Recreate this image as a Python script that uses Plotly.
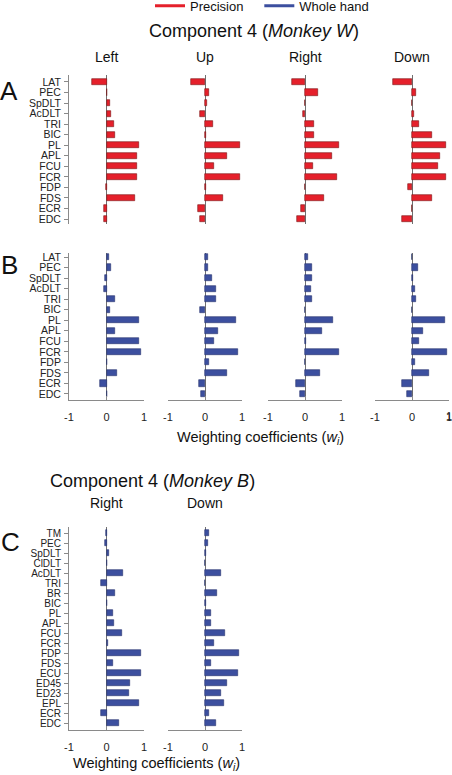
import plotly.graph_objects as go

# ---------------- data ----------------
muscles_W = ["LAT", "PEC", "SpDLT", "AcDLT", "TRI", "BIC", "PL", "APL", "FCU", "FCR", "FDP", "FDS", "ECR", "EDC"]
directions_W = ["Left", "Up", "Right", "Down"]

prec_left = [-0.39, 0.01, 0.09, 0.13, 0.20, 0.22, 0.87, 0.80, 0.82, 0.82, -0.01, 0.77, -0.06, -0.06]
prec_up = [-0.39, 0.10, 0.06, -0.14, 0.21, 0.02, 0.94, 0.60, 0.25, 0.94, 0.02, 0.48, -0.20, -0.14]
prec_right = [-0.35, 0.34, 0.01, -0.06, 0.23, 0.23, 0.93, 0.73, 0.21, 0.87, -0.01, 0.51, -0.12, -0.22]
prec_down = [-0.51, 0.12, 0.00, 0.06, 0.20, 0.53, 0.91, 0.76, 0.70, 0.92, -0.12, 0.55, -0.01, -0.26]

whole_left = [0.07, 0.13, -0.03, -0.07, 0.22, 0.09, 0.86, 0.23, 0.86, 0.93, 0.02, 0.28, -0.18, 0.00]
whole_up = [0.09, 0.08, 0.20, 0.30, 0.29, -0.14, 0.85, 0.35, 0.24, 0.90, 0.10, 0.60, -0.15, -0.12]
whole_right = [0.08, 0.20, 0.20, 0.17, 0.20, 0.00, 0.77, 0.45, 0.03, 0.93, 0.00, 0.41, -0.25, -0.14]
whole_down = [0.00, 0.15, 0.02, 0.09, 0.11, 0.00, 0.89, 0.30, 0.20, 0.94, 0.09, 0.46, -0.28, -0.14]

muscles_B = ["TM", "PEC", "SpDLT", "ClDLT", "AcDLT", "TRI", "BR", "BIC", "PL", "APL", "FCU", "FCR",
             "FDP", "FDS", "ECU", "ED45", "ED23", "EPL", "ECR", "EDC"]
directions_B = ["Right", "Down"]
wholeB_right = [-0.02, -0.03, 0.07, 0.00, 0.44, -0.14, 0.22, 0.01, 0.16, 0.21, 0.42, 0.04,
                0.91, 0.16, 0.91, 0.62, 0.60, 0.86, -0.16, 0.33]
wholeB_down = [0.12, 0.08, 0.02, 0.00, 0.43, 0.00, 0.32, 0.02, 0.16, 0.15, 0.55, 0.25,
               0.92, 0.15, 0.90, 0.60, 0.44, 0.52, 0.10, 0.29]

x_ticks = [-1, 0, 1]
x_ticktext = ["-1", "0", "1"]

# ---------------- style ----------------
W, H = 452, 775
FONT = "Arial, Liberation Sans, sans-serif"
RED = "#e5202b"
RED_EDGE = "#7a1414"
BLUE = "#3c4f9f"
BLUE_EDGE = "#26336d"
AXIS_GREY = "#8a8a8a"
ZERO_GREY = "#707070"


def px_x(p):
    return p / W


def px_y(p):
    return 1 - p / H


fig = go.Figure()
layout = {}

col_px = [(69, 144), (168, 242), (268, 342), (375, 449)]

panels = [
    ([prec_left, prec_up, prec_right, prec_down], RED, RED_EDGE, (75, 224), [13.47, -0.66], muscles_W, col_px, False, 0.58, 10.5),
    ([whole_left, whole_up, whole_right, whole_down], BLUE, BLUE_EDGE, (253, 400), [13.57, -0.38], muscles_W, col_px, True, 0.58, 10.5),
    ([wholeB_right, wholeB_down], BLUE, BLUE_EDGE, (527, 730), [19.7, -0.6], muscles_B, col_px[:2], True, 0.55, 10),
]

k = 0
for series, color, edge, (ytop, ybot), yrange, muscles, cols, show_x, bw, fs in panels:
    for ci, vals in enumerate(series):
        k += 1
        xa = "xaxis" if k == 1 else f"xaxis{k}"
        ya = "yaxis" if k == 1 else f"yaxis{k}"
        xr = "x" if k == 1 else f"x{k}"
        yr = "y" if k == 1 else f"y{k}"
        fig.add_trace(go.Bar(
            x=vals, y=muscles, orientation="h", xaxis=xr, yaxis=yr,
            marker=dict(color=color, line=dict(color=edge, width=0.6)),
            width=bw, showlegend=False, hoverinfo="x+y",
        ))
        x0, x1 = cols[ci]
        layout[xa] = dict(
            domain=[px_x(x0), px_x(x1)], range=[-1, 1], anchor=yr, automargin=False,
            zeroline=True, zerolinecolor=ZERO_GREY, zerolinewidth=1,
            showgrid=False, fixedrange=True,
            showline=show_x, linecolor=AXIS_GREY, linewidth=1,
            showticklabels=show_x, tickmode="array", tickvals=x_ticks, ticktext=x_ticktext,
            ticks="inside" if show_x else "", ticklen=4, tickcolor=AXIS_GREY,
            tickfont=dict(family=FONT, size=11, color="#222"), ticklabeloverflow="allow",
            ticklabelstandoff=7,
        )
        first = ci == 0
        layout[ya] = dict(
            domain=[px_y(ybot), px_y(ytop)], anchor=xr, type="category", automargin=False,
            categoryorder="array", categoryarray=muscles, range=yrange,
            tickmode="array", tickvals=muscles, ticktext=muscles,
            showgrid=False, zeroline=False, fixedrange=True,
            showline=first, linecolor=AXIS_GREY, linewidth=1,
            showticklabels=first, ticks="outside" if first else "", ticklen=4,
            tickcolor=AXIS_GREY, tickfont=dict(family=FONT, size=fs, color="#222"),
            ticklabelstandoff=1,
        )

# legend dummy traces
fig.add_trace(go.Scatter(x=[None], y=[None], mode="lines", name="Precision\u00a0\u00a0\u00a0",
                         line=dict(color=RED, width=3)))
fig.add_trace(go.Scatter(x=[None], y=[None], mode="lines", name="Whole hand",
                         line=dict(color=BLUE, width=3)))

ann = []


def add_text(text, x, y, size, xanchor="center"):
    ann.append(dict(text=text, x=px_x(x), y=px_y(y), xref="paper", yref="paper",
                    showarrow=False, xanchor=xanchor, yanchor="middle",
                    font=dict(family=FONT, size=size, color="#111")))


add_text("Component 4 (<i>Monkey W</i>)", 254, 31, 18)
for name, (x0, x1) in zip(directions_W, col_px):
    add_text(name, (x0 + x1) / 2, 57, 14)
add_text("Weighting coefficients (<i>w<sub>i</sub></i>)", 260, 438, 14.5)

add_text("Component 4 (<i>Monkey B</i>)", 152, 481, 18)
for name, (x0, x1) in zip(directions_B, col_px[:2]):
    add_text(name, (x0 + x1) / 2, 503, 14)
add_text("Weighting coefficients (<i>w<sub>i</sub></i>)", 156, 764, 14.5)

add_text("A", 9, 91, 26)
add_text("B", 9, 265, 26)
add_text("C", 10, 542, 26)

# right-end tick label of the last column (plotly drops it at the page edge)
ann.append(dict(text=x_ticktext[-1], x=x_ticks[-1], xref="x8", y=px_y(416), yref="paper",
                showarrow=False, xanchor="center", yanchor="middle",
                font=dict(family=FONT, size=11, color="#222")))

layout.update(dict(
    width=W, height=H, margin=dict(l=0, r=0, t=0, b=0, autoexpand=False),
    paper_bgcolor="white", plot_bgcolor="white",
    annotations=ann, bargap=0,
    showlegend=True,
    legend=dict(orientation="h", x=px_x(150), xanchor="left", y=1.012, yanchor="top",
                font=dict(family=FONT, size=13, color="#111"), itemwidth=30,
                bgcolor="rgba(0,0,0,0)", tracegroupgap=0),
    font=dict(family=FONT),
))
fig.update_layout(**layout)
fig.write_html(
    "out.html",
    config={"displayModeBar": False},
    post_script="document.body.style.margin='0';document.body.style.padding='0';"
                "document.body.style.overflow='hidden';",
)
